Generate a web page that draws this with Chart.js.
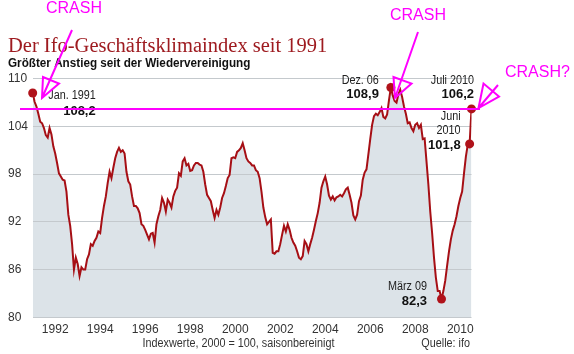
<!DOCTYPE html>
<html>
<head>
<meta charset="utf-8">
<script src="https://cdn.jsdelivr.net/npm/chart.js@4"></script>
<style>
  body { margin: 0; background: #fff; }
</style>
</head>
<body>
<canvas id="ifo" width="574" height="354"></canvas>
<script>
const title = "Der Ifo-Geschäftsklimaindex seit 1991"
const subtitle = "Größter Anstieg seit der Wiedervereinigung"
const footnote = "Indexwerte, 2000 = 100, saisonbereinigt"
const source = "Quelle: ifo"

const startYear = 1991
// Monatswerte ab Januar 1991, eine Zeile pro Jahr
const ifoIndex = [
    108.2, 107.1, 106.5, 105.6, 104.6, 104.4, 103.8, 102.9, 102.6, 103.8, 103.0, 101.5, // 1991
    100.6, 99.4, 98.1, 97.7, 97.3, 97.2, 95.8, 92.9, 91.5, 89.2, 86.0, 87.5,           // 1992
    86.7, 85.2, 86.3, 86.0, 86.0, 87.3, 87.9, 89.2, 89.0, 89.6, 90.0, 90.8,            // 1993
    90.6, 92.5, 94.0, 95.2, 96.9, 98.3, 97.5, 98.8, 100.0, 100.8, 101.3, 100.8,        // 1994
    101.0, 100.6, 98.3, 97.1, 96.7, 95.2, 94.0, 94.0, 93.7, 93.1, 91.7, 91.5,          // 1995
    91.0, 90.4, 89.8, 90.5, 90.6, 89.4, 91.7, 92.7, 93.5, 95.0, 94.4, 93.3,            // 1996
    94.8, 94.4, 93.8, 95.2, 95.9, 96.3, 98.1, 97.8, 99.6, 100.0, 99.1, 99.3,           // 1997
    98.4, 98.5, 99.1, 99.4, 99.4, 99.2, 99.1, 98.3, 96.7, 95.4, 95.0, 94.6,            // 1998
    93.5, 92.5, 93.5, 92.9, 93.8, 95.0, 95.6, 96.5, 97.5, 97.9, 100.0, 100.1,          // 1999
    100.0, 100.8, 101.0, 101.3, 101.9, 101.0, 100.0, 99.6, 99.4, 99.1, 99.1, 98.5,     // 2000
    98.3, 97.5, 95.8, 93.8, 92.6, 91.7, 92.0, 92.3, 88.1, 88.0, 88.3, 88.3,            // 2001
    89.2, 90.4, 91.5, 90.8, 91.7, 91.0, 90.0, 89.4, 89.0, 88.3, 87.5, 87.3,            // 2002
    87.7, 89.6, 89.2, 88.3, 89.2, 90.0, 91.0, 92.1, 93.1, 94.4, 96.3, 97.1,            // 2003
    97.7, 96.7, 95.3, 94.8, 95.2, 94.7, 95.1, 95.2, 95.4, 95.2, 95.6, 96.1,            // 2004
    96.3, 95.4, 94.4, 92.8, 92.3, 92.9, 94.6, 95.3, 97.3, 98.2, 98.6, 100.5,           // 2005
    102.4, 104.2, 105.3, 105.6, 105.4, 105.8, 106.3, 105.2, 105.0, 105.5, 107.3, 108.9, // 2006
    107.9, 107.2, 107.0, 108.0, 108.6, 107.7, 106.5, 105.6, 104.4, 104.5, 103.8, 103.4, // 2007
    104.2, 104.4, 103.8, 104.2, 102.4, 102.5, 99.6, 96.7, 93.3, 90.6, 87.5, 85.0,      // 2008
    83.3, 83.3, 82.3, 83.3, 84.6, 86.5, 88.3, 89.8, 90.9, 91.7, 92.7, 94.0,            // 2009
    95.0, 95.8, 98.1, 100.2, 101.7, 101.8, 106.2                                       // 2010
]

// markierte Monate (Index ab Jan. 1991)
const markMonths = [0, 191, 218, 233, 234]
const markTexts = [["Jan. 1991"], ["Dez. 06"], ["März 09"], ["Juni", "2010"], ["Juli 2010"]]

const xTicks = [1992, 1994, 1996, 1998, 2000, 2002, 2004, 2006, 2008, 2010]
const yTicks = [80, 86, 92, 98, 104, 110]
const crashLevel = 106.2

const RED = "#a60f15"
const PINK = "#ff00ff"
const SANS = '"Liberation Sans", Arial, sans-serif'

function toX(m) {
    return startYear + m / 12
}

function txt(ctx, s, x, y, font, color, align, sx) {
    ctx.save()
    ctx.translate(x, y)
    ctx.scale(sx || 1, 1)
    ctx.font = font
    ctx.fillStyle = color
    ctx.textAlign = align || "left"
    ctx.textBaseline = "alphabetic"
    ctx.fillText(s, 0, 0)
    ctx.restore()
}

function arrow(ctx, from, tip, a, b) {
    ctx.beginPath()
    ctx.moveTo(from[0], from[1])
    ctx.lineTo(tip[0], tip[1])
    ctx.moveTo(tip[0], tip[1])
    ctx.lineTo(a[0], a[1])
    ctx.lineTo(b[0], b[1])
    ctx.closePath()
    ctx.stroke()
}

// Beschriftung: Abstand rechte Kante / Grundlinien relativ zum Punkt
const labelPlace = [
    { dx: 63, dy: [6, 22] },
    { dx: -12, dy: [-3.5, 10.5] },
    { dx: -14.5, dy: [-9, 6] },
    { dx: -9, dy: [-23.5, -9.5, 5.5] },
    { dx: 2.5, dy: [-24.5, -10.5] }
]

const decorations = {
    id: "decorations",
    afterDraw(chart) {
        const ctx = chart.ctx
        const xs = chart.scales.x
        const ys = chart.scales.y

        txt(ctx, title, 8, 52, '20.5px "Liberation Serif", serif', "#9e1b20")
        txt(ctx, subtitle, 8, 67, "bold 13px " + SANS, "#111", "left", 0.9)
        txt(ctx, footnote, 238.5, 347, "12px " + SANS, "#333", "center", 0.9)
        txt(ctx, source, 470, 347, "12px " + SANS, "#333", "right", 0.9)

        markMonths.forEach((m, i) => {
            const px = xs.getPixelForValue(toX(m))
            const py = ys.getPixelForValue(ifoIndex[m])
            const p = labelPlace[i]
            const lines = markTexts[i]
            lines.forEach((s, k) => {
                txt(ctx, s, px + p.dx, py + p.dy[k], "12px " + SANS, "#222", "right", 0.9)
            })
            const val = ifoIndex[m].toFixed(1).replace(".", ",")
            txt(ctx, val, px + p.dx, py + p.dy[lines.length], "bold 13px " + SANS, "#111", "right")
        })

        // nachträglich eingezeichnete Markierungen
        ctx.save()
        ctx.strokeStyle = PINK
        ctx.lineWidth = 2
        const cy = ys.getPixelForValue(crashLevel)
        ctx.beginPath()
        ctx.moveTo(20, cy)
        ctx.lineTo(480, cy)
        ctx.stroke()
        arrow(ctx, [72, 30], [42, 98], [43, 77], [59, 83.5])
        arrow(ctx, [418, 32], [395, 98], [393.5, 77], [411.5, 83.5])
        arrow(ctx, [498, 85], [478.5, 108], [483.5, 83.5], [499, 96.5])
        ctx.restore()
        txt(ctx, "CRASH", 46, 12.5, "16px " + SANS, PINK)
        txt(ctx, "CRASH", 390, 20, "16px " + SANS, PINK)
        txt(ctx, "CRASH?", 505, 77, "16px " + SANS, PINK)
    }
}

new Chart(document.getElementById("ifo"), {
    type: "line",
    data: {
        datasets: [
            {
                data: ifoIndex.map((v, m) => ({ x: toX(m), y: v })),
                borderColor: RED,
                borderWidth: 2,
                pointRadius: 0,
                tension: 0,
                fill: "start",
                backgroundColor: "#dce3e8",
                order: 2
            },
            {
                data: markMonths.map(m => ({ x: toX(m), y: ifoIndex[m] })),
                showLine: false,
                pointRadius: 4.5,
                pointBorderWidth: 0,
                pointBackgroundColor: "#b0121a",
                fill: false,
                clip: false,
                order: 1
            }
        ]
    },
    options: {
        responsive: false,
        animation: false,
        events: [],
        layout: { padding: { left: 8, top: 78.7, right: 102.5, bottom: 0 } },
        scales: {
            x: {
                type: "linear",
                min: startYear,
                max: 2010.5,
                afterBuildTicks: s => { s.ticks = xTicks.map(v => ({ value: v })) },
                afterFit: s => { s.height = 36.7 },
                grid: { display: false },
                border: { display: false },
                ticks: {
                    callback: v => String(v),
                    color: "#333",
                    font: { family: SANS, size: 12 },
                    padding: -3,
                    maxRotation: 0,
                    autoSkip: false
                }
            },
            y: {
                min: 80,
                max: 110,
                afterBuildTicks: s => { s.ticks = yTicks.map(v => ({ value: v })) },
                afterFit: s => { s.width = 24.7 },
                grid: { color: "#c4c9cd", drawTicks: false },
                border: { display: false },
                ticks: {
                    callback: v => String(v),
                    crossAlign: "far",
                    color: "#333",
                    font: { family: SANS, size: 12 },
                    padding: 0
                }
            }
        },
        plugins: {
            legend: { display: false },
            tooltip: { enabled: false },
            filler: { drawTime: "beforeDraw" }
        }
    },
    plugins: [decorations]
})
</script>
</body>
</html>
